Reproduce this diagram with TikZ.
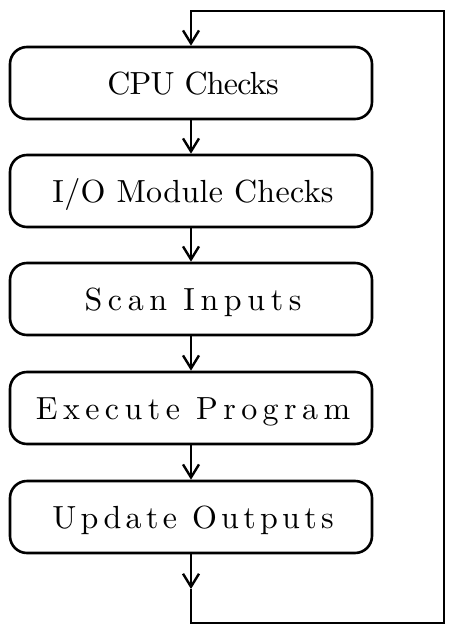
\documentclass[tikz,border=0pt]{standalone}
\usepackage{fontspec}
\setmainfont{lmroman10-regular.otf}
\newfontfamily\lsCPU[LetterSpace=-2.4]{lmroman10-regular.otf}
\newfontfamily\lsIO[LetterSpace=1]{lmroman10-regular.otf}
\newfontfamily\lsScan[LetterSpace=17.5]{lmroman10-regular.otf}
\newfontfamily\lsExec[LetterSpace=17]{lmroman10-regular.otf}
\newfontfamily\lsUpd[LetterSpace=13.5]{lmroman10-regular.otf}
\newcommand\boxtext[2]{#1\fontsize{32}{38}\selectfont\hskip4pt #2}
\usetikzlibrary{arrows.meta}
\tikzset{
  stepbox/.style={draw, line width=2.6pt, rounded corners=17pt, minimum width=362pt, minimum height=72pt, inner sep=0pt,
    text height=22pt, text depth=0pt, anchor=center},
  flow/.style={line width=2.6pt, -{Straight Barb[length=13pt,width=16pt,line width=2.4pt]}}
}
\begin{document}
\begin{tikzpicture}[x=1pt,y=-1pt]
\useasboundingbox (0,0) rectangle (455,635);
\node[stepbox] (n1) at (191,83) {\boxtext\lsCPU{CPU Checks}};
\node[stepbox] (n2) at (191,191) {\boxtext\lsIO{I/O Module Checks}};
\node[stepbox] (n3) at (191,299) {\boxtext\lsScan{Scan Inputs}};
\node[stepbox] (n4) at (191,408) {\boxtext\lsExec{Execute Program}};
\node[stepbox] (n5) at (191,517) {\boxtext\lsUpd{Update Outputs}};
\coordinate (a) at (191,589);
\coordinate (b) at (191,623);
\coordinate (c) at (444,623);
\coordinate (d) at (444,11);
\coordinate (e) at (191,11);
\draw[flow] (n1) -- (n2);
\draw[flow] (n2) -- (n3);
\draw[flow] (n3) -- (n4);
\draw[flow] (n4) -- (n5);
\draw[flow] (n5) -- (a);
\draw[flow, line join=miter] (a) -- (b) -- (c) -- (d) -- (e) -- (n1);
\end{tikzpicture}
\end{document}
